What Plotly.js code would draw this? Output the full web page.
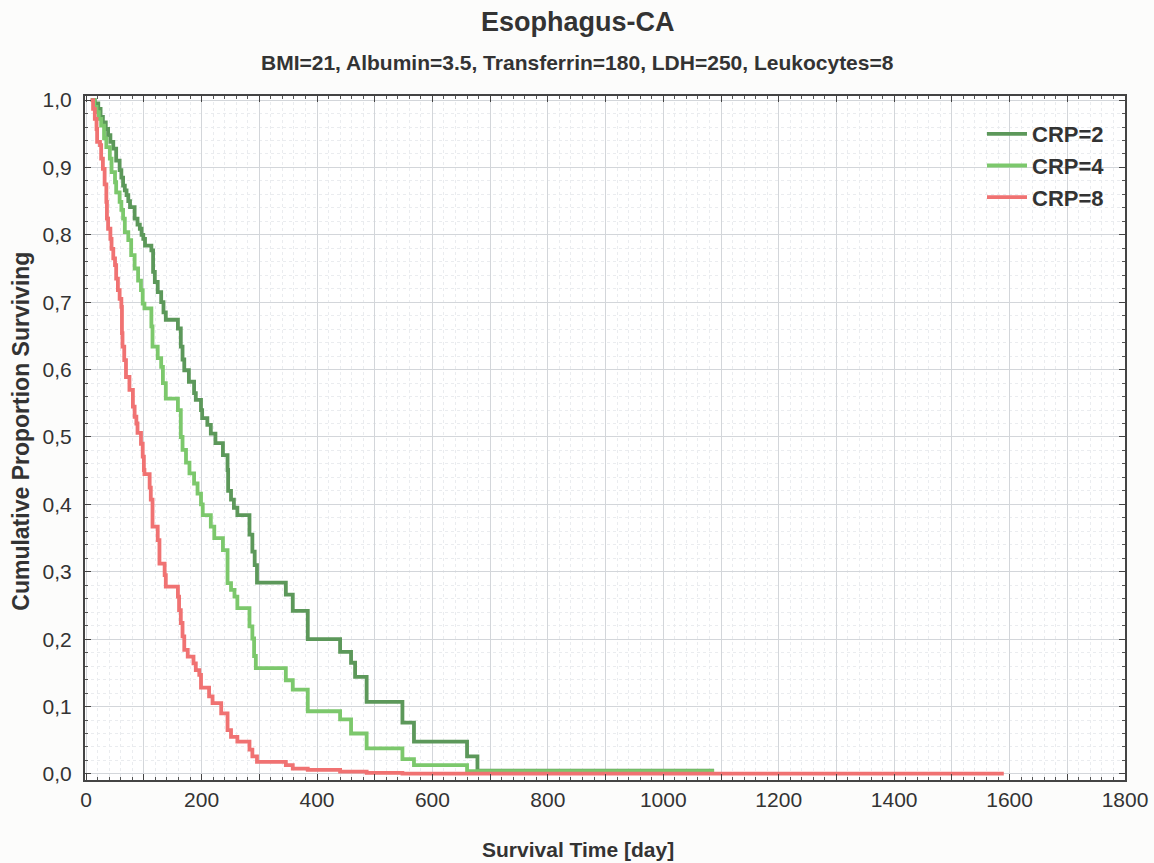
<!DOCTYPE html>
<html>
<head>
<meta charset="utf-8">
<script src="https://cdn.plot.ly/plotly-3.0.1.min.js"></script>
<style>
html,body{margin:0;padding:0;background:#fcfcfb;}
#chart{width:1154px;height:863px;}
</style>
</head>
<body>
<div id="chart"></div>
<script>
// CRP=2 (dark green)
const crp2Days = [8,15,21,25,29,34,38,42,47,52,58,61,64,67,70,73,76,84,89,93,96,99,102,113,116,119,124,130,134,138,159,164,167,170,178,187,190,199,201,210,216,224,237,245,246,251,256,262,283,288,292,296,346,358,384,440,459,466,486,548,568,660,678,1088];
const crp2Surv = [1.0,0.995,0.987,0.975,0.967,0.957,0.948,0.938,0.928,0.910,0.896,0.885,0.873,0.866,0.859,0.850,0.841,0.824,0.815,0.809,0.800,0.794,0.784,0.777,0.745,0.730,0.715,0.700,0.685,0.674,0.661,0.634,0.615,0.599,0.582,0.565,0.555,0.540,0.528,0.518,0.505,0.491,0.473,0.451,0.420,0.407,0.395,0.384,0.355,0.330,0.310,0.284,0.266,0.242,0.200,0.181,0.165,0.144,0.107,0.076,0.048,0.026,0.005,0.005];
// CRP=4 (light green)
const crp4Days = [8,14,18,22,26,31,35,41,44,50,52,58,61,64,67,73,78,84,90,95,98,101,113,115,124,130,133,138,159,164,167,173,179,187,193,199,202,216,222,237,245,251,257,262,283,288,291,294,346,358,384,440,459,486,548,568,660,1088];
const crp4Surv = [1.0,0.990,0.982,0.972,0.962,0.943,0.930,0.913,0.893,0.878,0.863,0.849,0.837,0.824,0.804,0.792,0.770,0.750,0.732,0.718,0.698,0.691,0.664,0.634,0.617,0.604,0.580,0.557,0.540,0.500,0.481,0.462,0.446,0.431,0.416,0.400,0.384,0.367,0.350,0.332,0.283,0.273,0.263,0.246,0.219,0.201,0.175,0.157,0.139,0.125,0.093,0.081,0.060,0.038,0.022,0.013,0.004,0.004];
// CRP=8 (red)
const crp8Days = [8,12,15,18,19,24,26,29,32,35,36,38,42,44,47,50,52,55,58,61,62,63,66,69,75,81,84,87,89,95,98,100,101,110,112,115,124,127,136,138,159,161,164,167,170,176,186,190,196,199,213,219,234,245,251,262,283,288,296,346,358,384,440,486,548,1590];
const crp8Surv = [1.0,0.987,0.972,0.957,0.938,0.933,0.913,0.898,0.875,0.849,0.824,0.809,0.794,0.779,0.765,0.755,0.735,0.718,0.705,0.693,0.654,0.634,0.614,0.589,0.570,0.545,0.530,0.520,0.506,0.490,0.471,0.451,0.445,0.425,0.407,0.367,0.347,0.312,0.295,0.278,0.263,0.243,0.224,0.204,0.184,0.174,0.164,0.154,0.147,0.128,0.115,0.105,0.090,0.065,0.055,0.048,0.036,0.026,0.018,0.013,0.008,0.006,0.0035,0.0015,0.0005,0.0005];

const seriesNames = ['CRP=2','CRP=4','CRP=8'];
const xTickVals = [0,100,200,300,400,500,600,700,800,900,1000,1100,1200,1300,1400,1500,1600,1700,1800];
const xTickText = ['0','','200','','400','','600','','800','','1000','','1200','','1400','','1600','','1800'];
const yTickVals = [0,0.1,0.2,0.3,0.4,0.5,0.6,0.7,0.8,0.9,1.0];
const yTickText = ['0,0','0,1','0,2','0,3','0,4','0,5','0,6','0,7','0,8','0,9','1,0'];

const colors = ['#5c985a','#7cc86c','#f07272'];
const labFont = 'Liberation Sans, Arial, sans-serif';

const mk = (x,y,i)=>({
  x:x, y:y, type:'scatter', mode:'lines', name:seriesNames[i],
  legendgroup:'g'+i,
  line:{shape:'hv', color:colors[i], width:3.8}
});

const traces = [mk(crp2Days,crp2Surv,0), mk(crp4Days,crp4Surv,1), mk(crp8Days,crp8Surv,2)];

const layout = {
  width:1154, height:863,
  paper_bgcolor:'#fcfcfb', plot_bgcolor:'#ffffff',
  margin:{l:85, r:29, t:96, b:83},
  showlegend:true,
  legend:{x:0.8625, y:0.975, xanchor:'left', yanchor:'top', bgcolor:'rgba(0,0,0,0)',
    font:{family:labFont, size:22, color:'#333', weight:'bold'}, itemwidth:40, tracegroupgap:0},
  xaxis:{range:[-2,1800], tickvals:xTickVals, ticktext:xTickText,
    ticks:'inside', ticklen:6, tickcolor:'#444', mirror:'ticks',
    showline:true, linecolor:'#444', linewidth:2,
    showgrid:true, gridcolor:'#d3d6da', gridwidth:1, zeroline:false,
    tickfont:{family:labFont, size:21, color:'#333'},
    minor:{dtick:20, ticks:'inside', ticklen:3, tickcolor:'#555', showgrid:true, gridcolor:'#eaecef', griddash:'dot'}},
  yaxis:{range:[-0.009,1.006], tickvals:yTickVals, ticktext:yTickText,
    ticks:'inside', ticklen:6, tickcolor:'#444', mirror:'ticks',
    showline:true, linecolor:'#444', linewidth:2,
    showgrid:true, gridcolor:'#d3d6da', gridwidth:1, zeroline:false,
    ticklabelstandoff:7,
    tickfont:{family:labFont, size:21, color:'#333'},
    minor:{dtick:0.02, ticks:'inside', ticklen:3, tickcolor:'#555', showgrid:true, gridcolor:'#eaecef', griddash:'dot'}},
  annotations:[
    {text:'<b>Esophagus-CA</b>', xref:'paper', yref:'paper', x:0.474, y:1.108, xanchor:'center', yanchor:'middle', showarrow:false,
      font:{family:labFont, size:27, color:'#333'}},
    {text:'<b>BMI=21, Albumin=3.5, Transferrin=180, LDH=250, Leukocytes=8</b>', xref:'paper', yref:'paper', x:0.474, y:1.0497, xanchor:'center', yanchor:'middle', showarrow:false,
      font:{family:labFont, size:21, color:'#333'}},
    {text:'<b>Survival Time [day]</b>', xref:'paper', yref:'paper', x:0.474, y:-0.102, xanchor:'center', yanchor:'middle', showarrow:false,
      font:{family:labFont, size:21, color:'#333'}},
    {text:'<b>Cumulative Proportion Surviving</b>', xref:'paper', yref:'paper', x:-0.061, y:0.51, xanchor:'center', yanchor:'middle', showarrow:false, textangle:-90,
      font:{family:labFont, size:23, color:'#333'}}
  ]
};

Plotly.newPlot('chart', traces, layout, {displayModeBar:false, staticPlot:true});
</script>
</body>
</html>
